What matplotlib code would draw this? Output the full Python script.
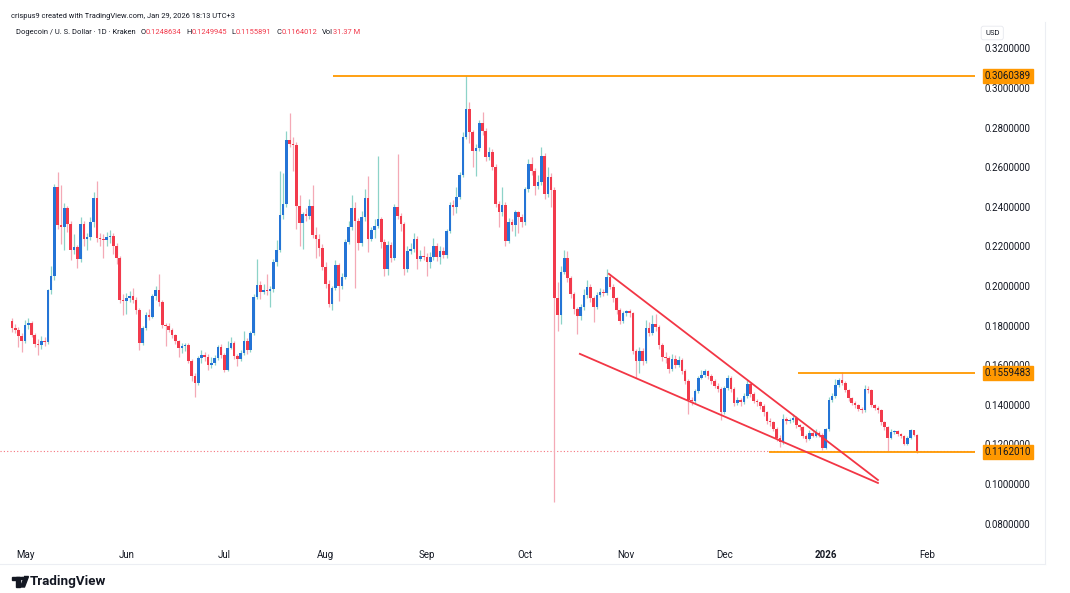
import numpy as np
import pandas as pd
import matplotlib
matplotlib.use('Agg')
import matplotlib.pyplot as plt
import matplotlib.dates as mdates
from matplotlib.patches import Rectangle, Polygon, Circle

plt.rcParams['font.family'] = ['Roboto', 'DejaVu Sans']

# Daily DOGE/USD candles (Kraken), 2025-04-27 .. 2026-01-29
first_date = '2025-04-27'
first_open = 0.1822

closes_apr = [0.1787, 0.1780, 0.1745, 0.1722]
highs_apr = [0.1838, 0.1810, 0.1792, 0.1760]
lows_apr = [0.1768, 0.1762, 0.1690, 0.1668]

closes_may = [0.1803, 0.1812, 0.1752, 0.1705, 0.1700, 0.1720, 0.1715, 0.1980, 0.2050, 0.2500,
              0.2310, 0.2300, 0.2395, 0.2315, 0.2180, 0.2195, 0.2135, 0.2315, 0.2235, 0.2245,
              0.2325, 0.2445, 0.2240, 0.2237, 0.2232, 0.2245, 0.2250, 0.2200, 0.2140, 0.1930, 0.1925]
highs_may = [0.1830, 0.1840, 0.1822, 0.1760, 0.1730, 0.1745, 0.1740, 0.1985, 0.2100, 0.2515,
             0.2577, 0.2510, 0.2420, 0.2405, 0.2330, 0.2260, 0.2205, 0.2350, 0.2330, 0.2265,
             0.2350, 0.2472, 0.2530, 0.2265, 0.2260, 0.2270, 0.2285, 0.2265, 0.2215, 0.2150, 0.1960]
lows_may = [0.1712, 0.1785, 0.1740, 0.1690, 0.1650, 0.1680, 0.1695, 0.1705, 0.1960, 0.2030,
            0.2290, 0.2210, 0.2180, 0.2270, 0.2130, 0.2160, 0.2090, 0.2120, 0.2200, 0.2180,
            0.2230, 0.2300, 0.2220, 0.2200, 0.2140, 0.2200, 0.2215, 0.2160, 0.2110, 0.1915, 0.1855]

closes_jun = [0.1937, 0.1950, 0.1930, 0.1880, 0.1710, 0.1790, 0.1855, 0.1845, 0.1950, 0.1980,
              0.1920, 0.1805, 0.1800, 0.1780, 0.1750, 0.1720, 0.1685, 0.1695, 0.1700, 0.1622,
              0.1545, 0.1510, 0.1635, 0.1650, 0.1640, 0.1600, 0.1610, 0.1635, 0.1690, 0.1650]
highs_jun = [0.1965, 0.1975, 0.1990, 0.1945, 0.1890, 0.1800, 0.1870, 0.1885, 0.1960, 0.2000,
             0.2059, 0.1930, 0.1815, 0.1812, 0.1790, 0.1758, 0.1728, 0.1712, 0.1712, 0.1712,
             0.1632, 0.1560, 0.1645, 0.1675, 0.1665, 0.1655, 0.1640, 0.1650, 0.1700, 0.1705]
lows_jun = [0.1860, 0.1920, 0.1915, 0.1860, 0.1675, 0.1700, 0.1780, 0.1830, 0.1840, 0.1930,
            0.1900, 0.1790, 0.1695, 0.1765, 0.1735, 0.1705, 0.1640, 0.1660, 0.1670, 0.1610,
            0.1520, 0.1440, 0.1500, 0.1610, 0.1620, 0.1575, 0.1585, 0.1600, 0.1625, 0.1635]

closes_jul = [0.1575, 0.1685, 0.1712, 0.1645, 0.1630, 0.1660, 0.1720, 0.1675, 0.1760, 0.1945,
              0.2005, 0.1970, 0.1980, 0.1972, 0.1985, 0.2120, 0.2180, 0.2360, 0.2415, 0.2735,
              0.2715, 0.2710, 0.2405, 0.2320, 0.2362, 0.2355, 0.2405, 0.2255, 0.2235, 0.2190, 0.2097]
highs_jul = [0.1660, 0.1720, 0.1740, 0.1720, 0.1655, 0.1675, 0.1775, 0.1735, 0.1775, 0.1960,
             0.2136, 0.2025, 0.2010, 0.2060, 0.2000, 0.2135, 0.2230, 0.2580, 0.2570, 0.2784,
             0.2872, 0.2750, 0.2725, 0.2460, 0.2375, 0.2395, 0.2440, 0.2510, 0.2300, 0.2260, 0.2210]
lows_jul = [0.1565, 0.1570, 0.1680, 0.1630, 0.1598, 0.1620, 0.1650, 0.1655, 0.1665, 0.1750,
            0.1935, 0.1935, 0.1960, 0.1955, 0.1895, 0.1970, 0.2100, 0.2170, 0.2340, 0.2400,
            0.2700, 0.2580, 0.2290, 0.2200, 0.2185, 0.2330, 0.2340, 0.2240, 0.2140, 0.2150, 0.2080]

closes_aug = [0.2010, 0.1910, 0.1990, 0.2105, 0.2000, 0.2047, 0.2221, 0.2297, 0.2393, 0.2330,
              0.2215, 0.2350, 0.2443, 0.2237, 0.2283, 0.2305, 0.2338, 0.2220, 0.2088, 0.2208,
              0.2140, 0.2397, 0.2355, 0.2313, 0.2088, 0.2178, 0.2186, 0.2237, 0.2136, 0.2153, 0.2148]
highs_aug = [0.2120, 0.2030, 0.2000, 0.2130, 0.2115, 0.2065, 0.2235, 0.2330, 0.2460, 0.2425,
             0.2345, 0.2380, 0.2490, 0.2557, 0.2300, 0.2340, 0.2658, 0.2350, 0.2235, 0.2225,
             0.2220, 0.2415, 0.2665, 0.2370, 0.2325, 0.2200, 0.2215, 0.2265, 0.2250, 0.2180, 0.2200]
lows_aug = [0.1990, 0.1895, 0.1880, 0.1980, 0.1925, 0.1985, 0.2035, 0.2210, 0.2285, 0.1990,
            0.2180, 0.2200, 0.2330, 0.2170, 0.2225, 0.2240, 0.2295, 0.2190, 0.2050, 0.2055,
            0.2120, 0.2130, 0.2340, 0.2280, 0.2055, 0.2070, 0.2160, 0.2170, 0.2085, 0.2125, 0.2130]

closes_sep = [0.2120, 0.2145, 0.2200, 0.2145, 0.2177, 0.2157, 0.2275, 0.2410, 0.2398, 0.2451,
              0.2561, 0.2754, 0.2894, 0.2776, 0.2682, 0.2695, 0.2821, 0.2783, 0.2653, 0.2676,
              0.2603, 0.2413, 0.2371, 0.2410, 0.2228, 0.2324, 0.2309, 0.2371, 0.2346, 0.2325]
highs_sep = [0.2165, 0.2170, 0.2240, 0.2215, 0.2200, 0.2195, 0.2290, 0.2425, 0.2435, 0.2500,
             0.2575, 0.2780, 0.3060, 0.2930, 0.2790, 0.2715, 0.2840, 0.2880, 0.2800, 0.2700,
             0.2690, 0.2615, 0.2430, 0.2500, 0.2425, 0.2345, 0.2340, 0.2385, 0.2380, 0.2365]
lows_sep = [0.2050, 0.2090, 0.2130, 0.2125, 0.2110, 0.2140, 0.2140, 0.2265, 0.2360, 0.2370,
            0.2440, 0.2550, 0.2740, 0.2720, 0.2600, 0.2555, 0.2680, 0.2760, 0.2630, 0.2635,
            0.2585, 0.2400, 0.2300, 0.2355, 0.2200, 0.2215, 0.2275, 0.2250, 0.2265, 0.2300]

closes_oct = [0.2488, 0.2614, 0.2580, 0.2507, 0.2527, 0.2656, 0.2463, 0.2552, 0.2485, 0.1938,
              0.1853, 0.2072, 0.2139, 0.2039, 0.1958, 0.1883, 0.1846, 0.1896, 0.1955, 0.1997,
              0.1938, 0.1896, 0.1955, 0.1971, 0.1963, 0.2047, 0.1997, 0.1938, 0.1879, 0.1824, 0.1862]
highs_oct = [0.2500, 0.2640, 0.2650, 0.2595, 0.2560, 0.2700, 0.2670, 0.2600, 0.2570, 0.2500,
             0.2020, 0.2100, 0.2180, 0.2175, 0.2050, 0.1970, 0.1895, 0.1910, 0.1985, 0.2030,
             0.2010, 0.1950, 0.1970, 0.1990, 0.1985, 0.2085, 0.2060, 0.2010, 0.1945, 0.1890, 0.1875]
lows_oct = [0.2310, 0.2475, 0.2560, 0.2460, 0.2490, 0.2510, 0.2440, 0.2450, 0.2400, 0.0911,
            0.1770, 0.1810, 0.2060, 0.2020, 0.1940, 0.1860, 0.1755, 0.1830, 0.1880, 0.1940,
            0.1920, 0.1820, 0.1885, 0.1945, 0.1950, 0.1955, 0.1985, 0.1920, 0.1860, 0.1810, 0.1815]

closes_nov = [0.1871, 0.1862, 0.1670, 0.1623, 0.1670, 0.1620, 0.1786, 0.1760, 0.1810, 0.1795,
              0.1700, 0.1643, 0.1635, 0.1582, 0.1630, 0.1600, 0.1625, 0.1570, 0.1520, 0.1425,
              0.1420, 0.1467, 0.1535, 0.1552, 0.1569, 0.1547, 0.1522, 0.1497, 0.1480, 0.1362]
highs_nov = [0.1880, 0.1885, 0.1870, 0.1680, 0.1690, 0.1685, 0.1830, 0.1820, 0.1855, 0.1860,
             0.1805, 0.1710, 0.1665, 0.1645, 0.1655, 0.1650, 0.1645, 0.1635, 0.1580, 0.1530,
             0.1440, 0.1480, 0.1545, 0.1575, 0.1580, 0.1575, 0.1555, 0.1530, 0.1510, 0.1490]
lows_nov = [0.1850, 0.1845, 0.1655, 0.1536, 0.1560, 0.1600, 0.1610, 0.1745, 0.1750, 0.1775,
            0.1680, 0.1620, 0.1610, 0.1560, 0.1570, 0.1585, 0.1590, 0.1555, 0.1505, 0.1355,
            0.1400, 0.1410, 0.1460, 0.1530, 0.1540, 0.1530, 0.1505, 0.1485, 0.1465, 0.1325]

closes_dec = [0.1485, 0.1535, 0.1480, 0.1410, 0.1423, 0.1412, 0.1445, 0.1505, 0.1455, 0.1421,
              0.1412, 0.1396, 0.1362, 0.1320, 0.1312, 0.1278, 0.1230, 0.1210, 0.1328, 0.1318,
              0.1323, 0.1335, 0.1298, 0.1286, 0.1243, 0.1227, 0.1256, 0.1243, 0.1256, 0.1248, 0.1184]
highs_dec = [0.1495, 0.1550, 0.1545, 0.1490, 0.1440, 0.1435, 0.1460, 0.1525, 0.1515, 0.1465,
             0.1430, 0.1420, 0.1405, 0.1370, 0.1335, 0.1320, 0.1290, 0.1245, 0.1355, 0.1340,
             0.1335, 0.1355, 0.1345, 0.1305, 0.1295, 0.1250, 0.1270, 0.1265, 0.1280, 0.1265, 0.1255]
lows_dec = [0.1355, 0.1475, 0.1465, 0.1395, 0.1400, 0.1395, 0.1405, 0.1435, 0.1440, 0.1410,
            0.1395, 0.1380, 0.1345, 0.1305, 0.1295, 0.1265, 0.1215, 0.1185, 0.1200, 0.1305,
            0.1310, 0.1315, 0.1285, 0.1275, 0.1230, 0.1210, 0.1220, 0.1235, 0.1238, 0.1235, 0.1170]

closes_jan = [0.1276, 0.1424, 0.1444, 0.1499, 0.1524, 0.1511, 0.1474, 0.1432, 0.1410, 0.1398,
              0.1381, 0.1372, 0.1482, 0.1474, 0.1398, 0.1385, 0.1372, 0.1313, 0.1288, 0.1233,
              0.1263, 0.1265, 0.1250, 0.1241, 0.1204, 0.1233, 0.1271, 0.1249, 0.1164012]
highs_jan = [0.1285, 0.1440, 0.1460, 0.1530, 0.1535, 0.1566, 0.1520, 0.1480, 0.1440, 0.1418,
             0.1405, 0.1390, 0.1500, 0.1495, 0.1480, 0.1405, 0.1395, 0.1380, 0.1320, 0.1295,
             0.1280, 0.1275, 0.1272, 0.1258, 0.1248, 0.1240, 0.1278, 0.1275, 0.1249945]
lows_jan = [0.1175, 0.1268, 0.1415, 0.1435, 0.1490, 0.1500, 0.1465, 0.1420, 0.1400, 0.1385,
            0.1370, 0.1360, 0.1365, 0.1460, 0.1390, 0.1375, 0.1360, 0.1300, 0.1275, 0.1165,
            0.1225, 0.1250, 0.1240, 0.1230, 0.1195, 0.1198, 0.1225, 0.1240, 0.1155891]

closes = (closes_apr + closes_may + closes_jun + closes_jul + closes_aug + closes_sep
          + closes_oct + closes_nov + closes_dec + closes_jan)
highs = (highs_apr + highs_may + highs_jun + highs_jul + highs_aug + highs_sep
         + highs_oct + highs_nov + highs_dec + highs_jan)
lows = (lows_apr + lows_may + lows_jun + lows_jul + lows_aug + lows_sep
        + lows_oct + lows_nov + lows_dec + lows_jan)
# crypto trades 24/7, so each daily open is the previous close
opens = [first_open] + closes[:-1]

# Drawings on the chart
level_prices = [0.3060389, 0.1559483, 0.1162010]
level_starts = ['2025-08-03 05:00', '2025-12-23 12:00', '2025-12-14 16:00']
wedge_upper = [('2025-10-26 16:00', 0.2061), ('2026-01-17 00:00', 0.1020)]
wedge_lower = [('2025-10-17 19:00', 0.1657), ('2026-01-17 00:00', 0.1005)]
last_price = 0.1164012

price_ticks = [0.08, 0.10, 0.12, 0.14, 0.16, 0.18, 0.20, 0.22, 0.24, 0.26, 0.28, 0.30, 0.32]
month_ticks = ['2025-05-01', '2025-06-01', '2025-07-01', '2025-08-01', '2025-09-01',
               '2025-10-01', '2025-11-01', '2025-12-01', '2026-01-01', '2026-02-01']
month_labels = ['May', 'Jun', 'Jul', 'Aug', 'Sep', 'Oct', 'Nov', 'Dec', '2026', 'Feb']

UP_BODY = '#2474d6'
UP_WICK = '#8dd3c8'
DOWN_BODY = '#f23a4c'
DOWN_WICK = '#f4a9b6'
ORANGE = '#ff9800'
TEXT = '#131722'

W, H = 1070, 593
fig = plt.figure(figsize=(W / 100, H / 100), dpi=100)
fig.patch.set_facecolor('white')
ax = fig.add_axes([0, 1 - 540 / H, 975 / W, (540 - 22) / H])

dates = pd.date_range(first_date, periods=len(closes), freq='D')
x = mdates.date2num(dates.to_pydatetime())
o = np.array(opens)
c = np.array(closes)
hi = np.array(highs)
lo = np.array(lows)
up = c >= o

# wicks
ax.vlines(x[up], lo[up], hi[up], color=UP_WICK, linewidth=0.9, zorder=2)
ax.vlines(x[~up], lo[~up], hi[~up], color=DOWN_WICK, linewidth=0.9, zorder=2)
# bodies
body_h = np.maximum(np.abs(c - o), 0.0004)
body_bottom = np.minimum(o, c)
ax.bar(x[up], body_h[up], bottom=body_bottom[up], width=0.8, color=UP_BODY, linewidth=0, zorder=3)
ax.bar(x[~up], body_h[~up], bottom=body_bottom[~up], width=0.8, color=DOWN_BODY, linewidth=0, zorder=3)

base = mdates.date2num(pd.Timestamp('2025-05-01'))
xmax = base + 290.7
ax.set_xlim(base - 7.65, xmax)
ax.set_ylim(0.0717, 0.3333)

# horizontal levels
for price, start in zip(level_prices, level_starts):
    xs = mdates.date2num(pd.Timestamp(start))
    ax.plot([xs, xmax], [price, price], color=ORANGE, linewidth=1.3, zorder=4, solid_capstyle='butt')

# falling wedge
for line in (wedge_upper, wedge_lower):
    lx = [mdates.date2num(pd.Timestamp(p[0])) for p in line]
    ly = [p[1] for p in line]
    ax.plot(lx, ly, color='#f23645', linewidth=1.3, zorder=4)

# last price dotted line
ax.axhline(last_price, color='#f23645', linewidth=0.8, linestyle=(0, (1, 2)), alpha=0.7, zorder=1)

for s in ax.spines.values():
    s.set_visible(False)

ax.set_xticks([mdates.date2num(pd.Timestamp(m)) for m in month_ticks])
ax.set_xticklabels(month_labels)
ax.tick_params(axis='x', length=0, pad=7, labelsize=7, labelcolor=TEXT)
for lbl in ax.get_xticklabels():
    if lbl.get_text() == '2026':
        lbl.set_fontweight('bold')

ax.yaxis.tick_right()
ax.set_yticks(price_ticks)
ax.set_yticklabels(['%.7f' % p for p in price_ticks])
ax.tick_params(axis='y', length=0, pad=7, labelsize=7, labelcolor=TEXT)

# orange price tags on the axis (they cover the nearby tick labels, as in TradingView)
for price in level_prices:
    ax.annotate('%.7f' % price, xy=(1.0, price), xycoords=('axes fraction', 'data'),
                xytext=(7, 0), textcoords='offset points', ha='left', va='center',
                fontsize=7, color=TEXT, zorder=6, annotation_clip=False,
                bbox=dict(boxstyle='square,pad=0.22', fc=ORANGE, ec=ORANGE))

# USD label box
fig.text(985 / W, 1 - 33 / H, 'USD', fontsize=5.5, color=TEXT, ha='left', va='center',
         bbox=dict(boxstyle='round,pad=0.5,rounding_size=0.3', fc='white', ec='#e6e8ee', lw=0.6))

# header
head_size = 5.4
fig.text(11 / W, 1 - 16 / H, 'crispus9 created with TradingView.com, Jan 29, 2026 18:13 UTC+3',
         fontsize=head_size, color=TEXT, ha='left', va='center')
header = [('Dogecoin / U. S. Dollar \u00b7 1D \u00b7 Kraken', TEXT, 0),
          ('O', TEXT, 3.5), ('0.1248634', DOWN_BODY, 0),
          ('H', TEXT, 3.5), ('0.1249945', DOWN_BODY, 0),
          ('L', TEXT, 3.5), ('0.1155891', DOWN_BODY, 0),
          ('C', TEXT, 3.5), ('0.1164012', DOWN_BODY, 0),
          ('Vol', TEXT, 3.5), ('31.37 M', DOWN_BODY, 0)]
prev = fig.text(16 / W, 1 - 33 / H, header[0][0], fontsize=head_size, color=header[0][1],
                ha='left', va='center')
for txt, col, gap in header[1:]:
    prev = ax.annotate(txt, xy=(1, 0), xycoords=prev, xytext=(gap, 0), textcoords='offset points',
                       ha='left', va='bottom', fontsize=head_size, color=col, annotation_clip=False)

# faint frame lines
fig.add_artist(plt.Line2D([0, 1045 / W], [1 - 564 / H, 1 - 564 / H], color='#eceef3', lw=0.8))
fig.add_artist(plt.Line2D([1045 / W, 1045 / W], [1 - 564 / H, 1 - 22 / H], color='#eceef3', lw=0.8))

# TradingView logo
def px(xx, yy):
    return (xx / W, 1 - yy / H)

logo = '#131722'
fig.add_artist(Rectangle(px(12, 580), 8 / W, 3.5 / H, transform=fig.transFigure, color=logo))
fig.add_artist(Rectangle(px(16, 587), 4 / W, 10.5 / H, transform=fig.transFigure, color=logo))
fig.add_artist(Circle(px(22.3, 578.4), 1.8 / W, transform=fig.transFigure, color=logo))
fig.add_artist(Polygon([px(24.5, 576.5), px(28.5, 576.5), px(24.5, 587), px(20.5, 587)],
                       closed=True, transform=fig.transFigure, color=logo))
fig.text(30 / W, 1 - 582 / H, 'TradingView', fontsize=9.6, fontweight='bold', color=logo,
         ha='left', va='center')

fig.savefig('out.png', dpi=100, facecolor='white')
